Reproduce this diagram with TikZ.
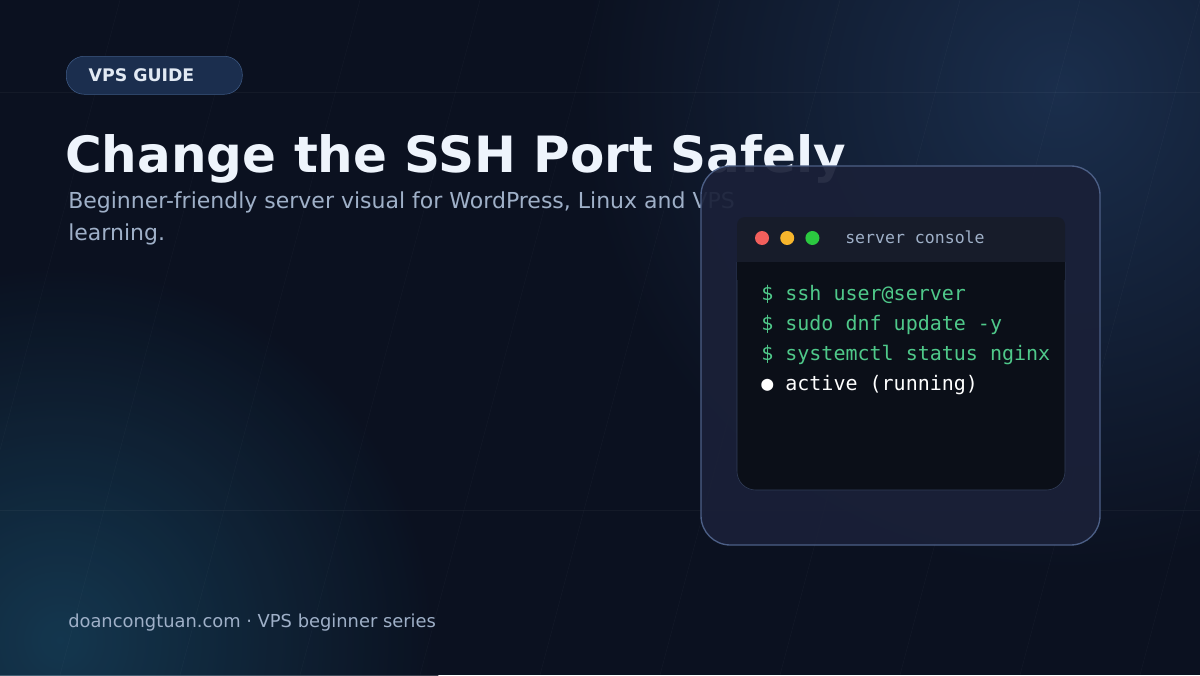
\documentclass[tikz,border=0pt]{standalone}
\usepackage{fontspec}
\setmainfont{DejaVu Sans}
\newfontfamily\monofont{DejaVu Sans Mono}
\usetikzlibrary{positioning}
\definecolor{bgdark}{HTML}{0B1120}
\definecolor{bgblue}{HTML}{1A2E4C}
\definecolor{bgteal}{HTML}{16405A}
\definecolor{titlewhite}{HTML}{EEF4FC}
\definecolor{subgray}{HTML}{9FB0C8}
\definecolor{badgefill}{HTML}{1B2E4E}
\definecolor{badgeline}{HTML}{3E5A85}
\definecolor{panelfill}{HTML}{1A2038}
\definecolor{panelline}{HTML}{4C5F86}
\definecolor{barfill}{HTML}{171C2A}
\definecolor{termfill}{HTML}{0B0F18}
\definecolor{cmdgreen}{HTML}{4FC98A}
\definecolor{dotred}{HTML}{F25F5C}
\definecolor{dotyellow}{HTML}{F7B52C}
\definecolor{dotgreen}{HTML}{2BC840}
\begin{document}
\begin{tikzpicture}[x=0.75pt, y=-0.75pt,
    cmd/.style={anchor=base west, inner sep=0pt, font=\monofont\fontsize{15}{17}\selectfont, text=cmdgreen},
    dot/.style={circle, minimum size=10.5pt, inner sep=0pt}]

    % background
    \useasboundingbox (0,0) rectangle (1200,675);
    \begin{scope}
    \clip (0,0) rectangle (1200,675);
    \fill[bgdark] (0,0) rectangle (1200,675);
    \shade[inner color=bgblue, outer color=bgdark] (1060,90) circle[radius=480];
    \begin{scope}[transparency group, opacity=0.8]
    \shade[inner color=bgteal, outer color=bgdark] (60,640) circle[radius=380];
    \end{scope}
    \foreach \gy in {92, 510} \draw[white, opacity=0.04] (0,\gy) -- (1200,\gy);
    \foreach \gx in {0,120,...,1320} \draw[white, opacity=0.03] (\gx,0) -- (\gx-180,675);
    \end{scope}

    % badge and headings
    \node[draw=badgeline, fill=badgefill, rounded corners=13.5pt, minimum width=132pt, minimum height=28.5pt,
          inner sep=0pt, anchor=north west] (badge) at (66,56) {};
    \node[anchor=west, text=titlewhite!85!subgray, font=\bfseries\fontsize{13}{15}\selectfont] (badgetxt) at (84,75) {VPS GUIDE};
    \node[anchor=base west, inner sep=0pt, text=titlewhite, font=\bfseries\fontsize{37.5}{40}\selectfont] (title) at (65,172) {Change the SSH Port Safely};
    \node[anchor=base west, inner sep=0pt, text=subgray, font=\fontsize{16.5}{18}\selectfont] (sub1) at (68,208) {Beginner-friendly server visual for WordPress, Linux and VPS};
    \node[anchor=base west, inner sep=0pt, text=subgray, font=\fontsize{16.5}{18}\selectfont] (sub2) at (68,240) {learning.};
    \node[anchor=base west, inner sep=0pt, text=subgray, font=\fontsize{13.4}{16}\selectfont] (footer) at (68,627) {doancongtuan.com · VPS beginner series};

    % console panel
    \draw[panelline, fill=panelfill, fill opacity=0.93, rounded corners=22pt, line width=1pt] (701,166) rectangle (1100,545);
    \fill[barfill, rounded corners=6pt] (737,217) rectangle (1065,275);
    \draw[panelline!60!termfill, fill=termfill, rounded corners=14pt] (737,262) -- (737,490) -- (1065,490) -- (1065,262);
    \fill[termfill] (737.4,262) rectangle (1064.6,280);
    \node[dot, fill=dotred] (red) at (762,238) {};
    \node[dot, fill=dotyellow, right=8pt of red] (yellow) {};
    \node[dot, fill=dotgreen, right=8pt of yellow] (green) {};
    \node[anchor=base west, inner sep=0pt, text=subgray, font=\monofont\fontsize{12.4}{14}\selectfont] (contitle) at (845,243) {server console};
    \node[cmd] (c1) at (761,300) {\$ ssh user@server};
    \node[cmd] (c2) at (761,330) {\$ sudo dnf update -y};
    \node[cmd] (c3) at (761,360) {\$ systemctl status nginx};
    \node[cmd, text=white] (c4) at (761,390) {● active (running)};

\end{tikzpicture}
\end{document}
